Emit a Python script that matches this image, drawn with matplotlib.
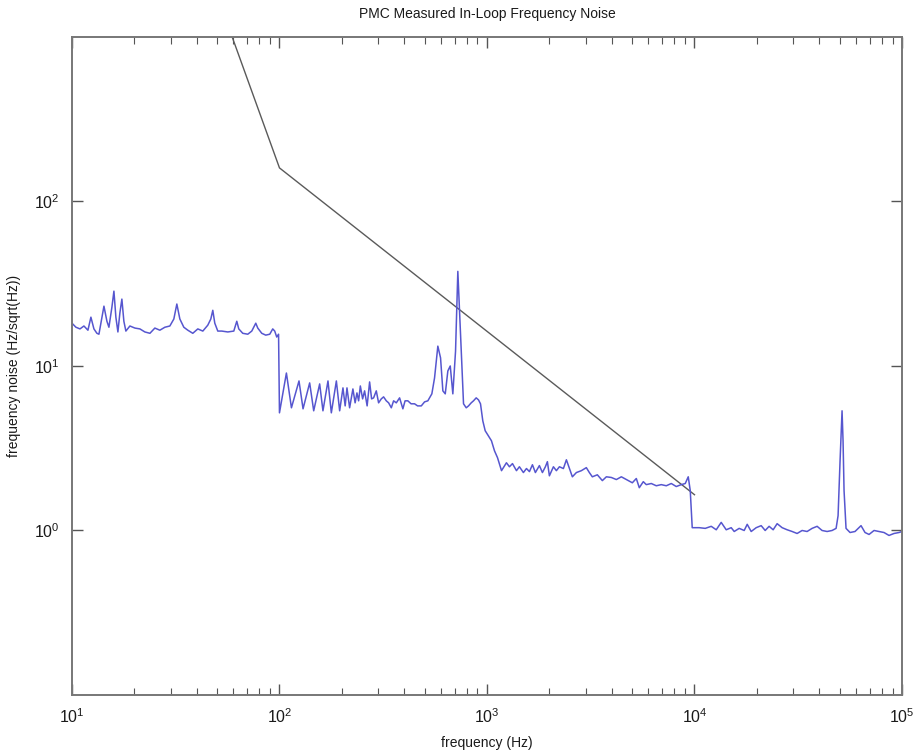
import matplotlib
matplotlib.use('Agg')
import matplotlib.pyplot as plt
from matplotlib.ticker import LogLocator, NullLocator, NullFormatter
import numpy as np

plt.rcParams['font.family'] = ['Liberation Sans', 'DejaVu Sans']

# in-loop noise, 10 Hz - 100 Hz
band1_f = [10.0, 10.45, 10.93, 11.42, 11.94, 12.34, 12.76, 13.19, 13.49, 13.79,
           14.26, 14.74, 15.07, 15.58, 15.93, 16.28, 16.65, 17.02, 17.40, 17.79,
           18.19, 19.02, 20.11, 21.25, 22.46, 23.75, 25.09, 26.52, 28.04, 29.63,
           30.97, 32.02, 33.11, 34.60, 36.17, 38.22, 40.41, 42.72, 45.14, 46.68,
           47.72, 48.79, 50.44, 52.72, 56.36, 60.24, 62.27, 63.67, 66.55, 70.35,
           73.54, 76.88, 78.60, 82.16, 85.88, 89.80, 92.80, 94.87, 97.0, 99.0]
band1_a = [18.2, 17.2, 16.8, 17.5, 16.5, 19.8, 16.8, 15.8, 15.6, 18.2,
           23.1, 18.7, 17.2, 22.8, 28.5, 19.8, 16.1, 21.0, 25.5, 18.7,
           16.3, 17.5, 17.0, 16.8, 16.1, 15.8, 17.0, 16.5, 17.2, 17.5,
           19.3, 23.8, 19.3, 17.2, 16.5, 15.8, 16.8, 16.3, 17.7, 19.3,
           21.8, 18.2, 16.3, 16.3, 16.1, 16.3, 18.7, 16.8, 15.8, 15.6,
           16.3, 18.2, 17.0, 15.8, 15.4, 15.6, 16.8, 16.3, 15.0, 15.6]

# 100 Hz - 1 kHz
band2_f = [100.0, 108.0, 114.2, 124.2, 129.9, 139.8, 146.2, 156.2, 162.0, 171.3,
           177.8, 188.0, 195.0, 202.3, 207.3, 211.5, 217.8, 225.9, 231.5, 236.2,
           240.7, 245.3, 251.6, 257.2, 264.5, 271.9, 278.0, 284.2, 292.8, 300.4,
           309.5, 317.5, 327.2, 335.7, 345.9, 354.8, 365.6, 379.2, 393.3, 403.0,
           415.7, 430.7, 447.7, 463.0, 482.4, 500.3, 518.8, 542.4, 558.9, 579.7,
           597.4, 612.9, 629.4, 647.8, 665.3, 684.7, 705.5, 723.7, 739.9, 756.5,
           770.9, 794.3, 814.8, 839.5, 861.0, 887.2, 910.2, 930.6, 954.7, 980.3]
band2_a = [5.19, 9.06, 5.57, 8.11, 5.49, 7.89, 5.34, 7.78, 5.34, 8.11,
           5.19, 8.11, 5.34, 7.36, 5.72, 7.36, 5.57, 7.25, 5.97, 6.86,
           6.14, 7.56, 6.31, 7.06, 5.72, 8.00, 6.31, 6.40, 7.06, 5.97,
           6.31, 6.49, 6.14, 5.97, 5.57, 6.14, 5.97, 6.40, 5.49, 6.14,
           6.14, 5.89, 5.89, 5.72, 5.72, 6.05, 6.14, 6.77, 8.46, 13.2,
           11.2, 7.06, 6.77, 9.33, 10.0, 6.77, 12.3, 37.6, 19.5, 10.3,
           5.89, 5.57, 5.72, 5.97, 6.14, 6.40, 6.22, 5.89, 4.64, 4.04]

# 1 kHz - 10 kHz
band3_f = [1051, 1087, 1124, 1175, 1241, 1283, 1327, 1387, 1433, 1498,
           1550, 1602, 1656, 1711, 1789, 1850, 1912, 1955, 1999, 2090,
           2160, 2234, 2335, 2414, 2496, 2579, 2697, 2850, 3012, 3114,
           3219, 3403, 3597, 3761, 3975, 4202, 4441, 4694, 5017, 5244,
           5420, 5666, 5857, 6191, 6545, 6918, 7312, 7730, 8170, 8636,
           9026, 9330, 9540, 9752]
band3_a = [3.51, 3.05, 2.77, 2.31, 2.58, 2.44, 2.55, 2.31, 2.44, 2.25,
           2.38, 2.28, 2.51, 2.25, 2.48, 2.25, 2.44, 2.62, 2.15, 2.44,
           2.31, 2.44, 2.38, 2.69, 2.38, 2.12, 2.25, 2.31, 2.41, 2.25,
           2.12, 2.18, 2.01, 2.12, 2.10, 2.04, 2.12, 2.04, 1.95, 2.07,
           1.82, 1.98, 1.90, 1.93, 1.87, 1.90, 1.87, 1.93, 1.85, 1.90,
           1.93, 2.12, 1.75, 1.04]

# 10 kHz - 100 kHz
band4_f = [10540, 11270, 12040, 12730, 13450, 14220, 15030, 15540, 16420, 17360,
           17950, 18760, 19830, 20960, 21910, 22890, 23940, 25020, 26450, 27960,
           29550, 31230, 33010, 34890, 36880, 38990, 41200, 43560, 46040, 48130,
           49200, 50300, 51420, 51990, 52570, 53740, 56180, 59380, 63470, 66350,
           69380, 73330, 77510, 81910, 86580, 91510, 96740, 100000]
band4_a = [1.04, 1.03, 1.06, 1.01, 1.12, 1.01, 1.04, 0.986, 1.03, 1.00,
           1.09, 0.986, 1.04, 1.07, 1.00, 1.06, 1.01, 1.10, 1.04, 1.01,
           0.986, 0.959, 1.00, 0.986, 1.03, 1.06, 1.00, 0.986, 1.00, 1.03,
           1.23, 2.66, 5.34, 3.51, 1.75, 1.03, 0.972, 0.986, 1.07, 0.972,
           0.946, 1.00, 0.986, 0.972, 0.933, 0.959, 0.972, 0.986]

# requirement curve
ref_f = [50, 100, 10000]
ref_a = [1800, 160, 1.65]

freq = np.concatenate([band1_f, band2_f, band3_f, band4_f])
noise = np.concatenate([band1_a, band2_a, band3_a, band4_a])

fig = plt.figure(figsize=(9.19, 7.56), dpi=100)
ax = fig.add_axes([0.0783, 0.0807, 0.9032, 0.8704])

ax.loglog(ref_f, ref_a, color='#5a5a5a', lw=1.0)
ax.loglog(freq, noise, color='#5656cf', lw=1.1)

ax.set_xlim(10, 1e5)
ax.set_ylim(0.1, 1000)
ax.set_yticks([1, 10, 100])
ax.yaxis.set_minor_locator(NullLocator())
ax.xaxis.set_major_locator(LogLocator(base=10, numticks=10))
ax.xaxis.set_minor_locator(LogLocator(base=10, subs=np.arange(2, 10), numticks=20))
ax.xaxis.set_minor_formatter(NullFormatter())

ax.tick_params(which='both', direction='in', top=True, right=True,
               color='#555555', labelsize=11.5, labelcolor='#1a1a1a')
ax.tick_params(which='major', length=8, width=1.0)
ax.tick_params(which='minor', length=5, width=0.8)
ax.tick_params(axis='x', pad=9)
ax.tick_params(axis='y', pad=9)
for s in ax.spines.values():
    s.set_color('#777777')
    s.set_linewidth(1.4)

ax.set_title('PMC Measured In-Loop Frequency Noise', fontsize=10, pad=14,
             color='#1a1a1a')
ax.set_xlabel('frequency (Hz)', fontsize=10, labelpad=7, color='#1a1a1a')
ax.set_ylabel('frequency noise (Hz/sqrt(Hz))', fontsize=10, labelpad=9,
              color='#1a1a1a')

fig.savefig('out.png', dpi=100)
